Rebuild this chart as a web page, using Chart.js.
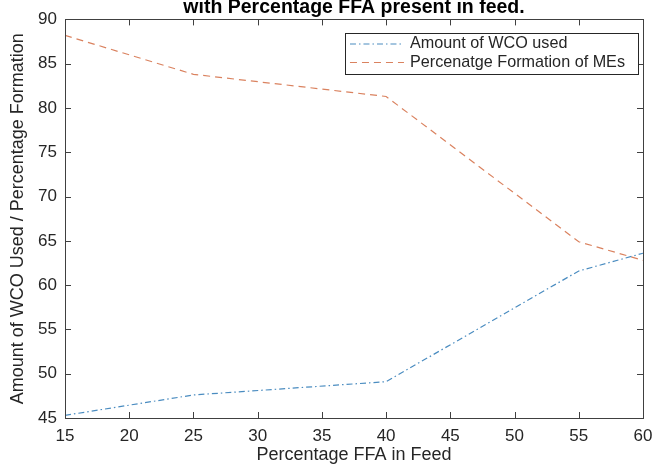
<!DOCTYPE html>
<html><head><meta charset="utf-8">
<script src="https://cdn.jsdelivr.net/npm/chart.js@4/dist/chart.umd.min.js"></script>
<style>html,body{margin:0;padding:0;background:#fff}#wrap{width:652px;height:468px}</style>
</head><body><div id="wrap"><canvas id="c" width="652" height="468"></canvas></div>
<script>
const ffaPercent = [15, 25, 40, 55, 60];
const wcoUsed = [45.3, 47.6, 49.1, 61.6, 63.6];
const meFormation = [88.2, 83.8, 81.3, 64.9, 62.8];
const xTickValues = [15, 20, 25, 30, 35, 40, 45, 50, 55, 60];
const yTickValues = [45, 50, 55, 60, 65, 70, 75, 80, 85, 90];
const seriesLabels = ['Amount of WCO used', 'Percenatge Formation of MEs'];
const titleText = 'with Percentage FFA present in feed.';
const xTitle = 'Percentage FFA in Feed';
const yTitle = 'Amount of WCO Used / Percentage Formation';

const FONT = "'Liberation Sans', Arial, Helvetica, sans-serif";
const AX = '#404040';
const TXT = '#262626';

const toPts = (xs, ys) => xs.map((x, i) => ({x: x, y: ys[i]}));

const matlabPlugin = {
  id: 'matlabAxes',
  afterDatasetsDraw(chart) {
    const {ctx, chartArea: a, scales} = chart;
    ctx.save();
    ctx.strokeStyle = AX; ctx.lineWidth = 1; ctx.setLineDash([]);
    ctx.strokeRect(Math.round(a.left) + 0.5, Math.round(a.top) + 0.5, Math.round(a.right - a.left), Math.round(a.bottom - a.top));
    const tl = 6;
    ctx.beginPath();
    scales.x.ticks.forEach(t => {
      const px = Math.round(scales.x.getPixelForValue(t.value)) + 0.5;
      ctx.moveTo(px, a.bottom); ctx.lineTo(px, a.bottom - tl);
      ctx.moveTo(px, a.top); ctx.lineTo(px, a.top + tl);
    });
    scales.y.ticks.forEach(t => {
      const py = Math.round(scales.y.getPixelForValue(t.value)) + 0.5;
      ctx.moveTo(a.left, py); ctx.lineTo(a.left + tl, py);
      ctx.moveTo(a.right, py); ctx.lineTo(a.right - tl, py);
    });
    ctx.stroke();

    // legend
    ctx.font = '16.2px ' + FONT;
    const ds = chart.data.datasets;
    const maxW = Math.max(...ds.map(d => ctx.measureText(d.label).width));
    const w = 65 + maxW + 13, h = 41;
    const right = Math.round(a.right) - 5, top = Math.round(a.top) + 14;
    const left = right - w;
    ctx.fillStyle = '#fff';
    ctx.fillRect(left, top, w, h);
    ctx.strokeStyle = '#262626'; ctx.lineWidth = 1;
    ctx.strokeRect(Math.round(left) + 0.5, top + 0.5, Math.round(w), h);
    ds.forEach((d, i) => {
      const y = top + 11 + i * 18.5;
      ctx.strokeStyle = d.borderColor; ctx.lineWidth = d.borderWidth;
      ctx.setLineDash(d.borderDash);
      ctx.beginPath(); ctx.moveTo(left + 5, y); ctx.lineTo(left + 59, y); ctx.stroke();
      ctx.setLineDash([]);
      ctx.fillStyle = TXT; ctx.textBaseline = 'middle'; ctx.textAlign = 'left';
      ctx.fillText(d.label, left + 65, y);
    });
    ctx.restore();
  }
};

new Chart(document.getElementById('c'), {
  type: 'line',
  data: {
    datasets: [
      {label: seriesLabels[0], data: toPts(ffaPercent, wcoUsed), borderColor: '#4a8cc0', borderWidth: 1.2, borderDash: [6, 3, 1.5, 3], pointRadius: 0, tension: 0, fill: false},
      {label: seriesLabels[1], data: toPts(ffaPercent, meFormation), borderColor: '#da825f', borderWidth: 1.2, borderDash: [7, 5], pointRadius: 0, tension: 0, fill: false}
    ]
  },
  options: {
    responsive: false, animation: false, devicePixelRatio: 1,
    layout: {padding: {left: 0, right: 0, top: 0, bottom: 0}},
    plugins: {
      legend: {display: false}, tooltip: {enabled: false},
      title: {display: true, text: titleText, fullSize: false, color: '#000', font: {family: FONT, size: 19.5, weight: 'bold'}, padding: {top: -4, bottom: 0}}
    },
    scales: {
      x: {
        type: 'linear', position: 'bottom', min: 15, max: 60,
        afterBuildTicks: s => { s.ticks = xTickValues.map(v => ({value: v})); },
        afterFit: s => { s.height = 50; s.paddingRight = 9; s.paddingLeft = 0; },
        grid: {display: false, drawTicks: false},
        border: {display: false},
        ticks: {color: TXT, font: {family: FONT, size: 17}, padding: 8, maxRotation: 0, autoSkip: false},
        title: {display: true, text: xTitle, color: TXT, font: {family: FONT, size: 18}, padding: {top: 0, bottom: 2}}
      },
      y: {
        type: 'linear', position: 'left', min: 45, max: 90,
        afterBuildTicks: s => { s.ticks = yTickValues.map(v => ({value: v})); },
        afterFit: s => { s.width = 65; s.paddingTop = 0; s.paddingBottom = 0; },
        grid: {display: false, drawTicks: false},
        border: {display: false},
        ticks: {color: TXT, font: {family: FONT, size: 17}, padding: 8, autoSkip: false},
        title: {display: true, text: yTitle, color: TXT, font: {family: FONT, size: 18}, padding: {top: 7, bottom: 0}}
      }
    }
  },
  plugins: [matlabPlugin]
});
</script></body></html>
